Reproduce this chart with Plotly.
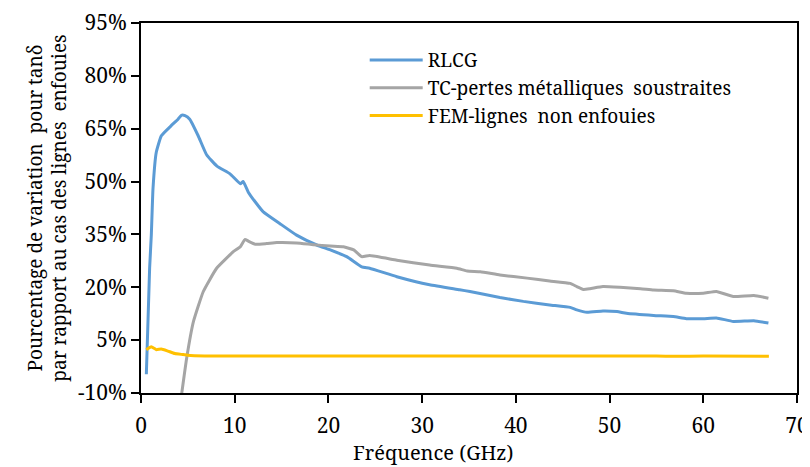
import plotly.graph_objects as go

COLOR_RLCG = "#5B9BD5"
COLOR_TC = "#A5A5A5"
COLOR_FEM = "#FFC000"
FONT = "Noto Serif, DejaVu Serif, serif"

# RLCG
rlcg_f = [0.57, 0.92, 1.1, 1.28, 1.63, 2.17, 3.2, 3.95, 4.3, 4.7, 5.2, 6.1, 7.0, 8.1, 9.5,
          10.6, 10.9, 11.45, 12.2, 13.05, 14.8, 16.6, 18.75, 20.2, 21.95, 23.55, 24.4,
          27.3, 30.8, 34.0, 35.1, 38.3, 40.8, 43.6, 45.8, 46.5, 47.6, 49.3, 50.8, 51.8,
          54.7, 56.8, 58.2, 60.0, 61.4, 63.2, 65.4, 66.95]
rlcg_v = [-4.7, 25.4, 34.8, 48.0, 58.3, 63.0, 65.8, 67.7, 68.8, 68.7, 67.7, 63.0, 57.6, 54.4, 52.2,
          49.4, 50.0, 47.0, 44.2, 41.4, 38.1, 34.8, 32.0, 30.6, 28.7, 25.8, 25.4,
          23.0, 20.7, 19.3, 18.8, 17.1, 16.0, 15.0, 14.3, 13.6, 12.9, 13.3, 13.1, 12.6,
          12.0, 11.7, 11.1, 11.1, 11.3, 10.3, 10.5, 9.85]

# TC-pertes métalliques soustraites
tc_f = [4.3, 4.88, 5.6, 6.65, 8.07, 9.85, 10.6, 11.1, 11.45, 12.2, 13.4, 14.5, 16.6, 18.4,
        20.2, 21.6, 22.7, 23.55, 24.4, 27.3, 30.8, 33.7, 34.8, 36.2, 38.3, 41.2, 43.6,
        45.8, 46.5, 47.2, 47.9, 49.3, 51.1, 53.3, 54.7, 56.8, 58.2, 60.0, 61.4, 63.2,
        65.4, 66.95]
tc_v = [-11.0, 0.0, 10.3, 18.8, 25.4, 30.1, 31.5, 33.6, 33.1, 32.2, 32.4, 32.7, 32.6, 32.1,
        31.7, 31.5, 30.6, 28.7, 29.0, 27.7, 26.3, 25.4, 24.6, 24.4, 23.5, 22.6, 21.8,
        21.1, 20.2, 19.4, 19.6, 20.2, 20.0, 19.6, 19.2, 19.0, 18.3, 18.3, 18.8, 17.4,
        17.7, 16.9]

# FEM-lignes non enfouies
fem_f = [0.57, 1.1, 1.63, 2.17, 2.88, 3.6, 4.5, 5.0, 6.8, 9.1, 20, 30, 40, 50, 55, 57, 60, 67]
fem_v = [2.3, 3.1, 2.3, 2.5, 1.9, 1.2, 0.9, 0.7, 0.5, 0.5, 0.5, 0.5, 0.5, 0.5, 0.5, 0.4, 0.5, 0.4]

y_ticks = [-10, 5, 20, 35, 50, 65, 80, 95]

fig = go.Figure()
fig.add_trace(go.Scatter(x=rlcg_f, y=rlcg_v, mode="lines", name="RLCG",
                         line=dict(color=COLOR_RLCG, width=3, shape="spline", smoothing=0.4)))
fig.add_trace(go.Scatter(x=tc_f, y=tc_v, mode="lines", name="TC-pertes métalliques  soustraites",
                         line=dict(color=COLOR_TC, width=3, shape="spline", smoothing=0.4)))
fig.add_trace(go.Scatter(x=fem_f, y=fem_v, mode="lines", name="FEM-lignes  non enfouies",
                         line=dict(color=COLOR_FEM, width=3, shape="spline", smoothing=0.4)))

axis_common = dict(showline=True, linecolor="black", linewidth=2, mirror=True,
                   ticks="outside", ticklen=8, tickcolor="black", tickwidth=1.5,
                   showgrid=False, zeroline=False, automargin=False,
                   ticklabeloverflow="allow",
                   tickfont=dict(family=FONT, size=21, color="black"))

# page has an 8px body margin, so the figure is 8px smaller than the window
fig.update_layout(
    width=802, height=459,
    template="none",
    paper_bgcolor="white", plot_bgcolor="white",
    font=dict(family=FONT, size=20, color="black"),
    margin=dict(l=133, r=13, t=15, b=74),
    xaxis=dict(range=[0, 70], dtick=10, tick0=0, ticklabelstandoff=5,
               **axis_common),
    yaxis=dict(range=[-10, 95], tickvals=y_ticks,
               ticktext=[f"{v}%" for v in y_ticks],
               title=dict(text="Pourcentage de variation  pour tanδ<br>par rapport au cas des lignes  enfouies",
                          font=dict(family=FONT, size=19), standoff=6),
               **axis_common),
    legend=dict(x=0.341, y=0.951, xanchor="left", yanchor="top",
                bgcolor="rgba(0,0,0,0)", font=dict(family=FONT, size=19),
                itemwidth=53, tracegroupgap=0),
    showlegend=True,
)

# x title sits left of the axis centre in the original
fig.add_annotation(text="Fréquence (GHz)", xref="paper", yref="paper",
                   x=0.445, y=0, xanchor="center", yanchor="middle", yshift=-59,
                   showarrow=False, font=dict(family=FONT, size=20, color="black"))

fig.write_html("out.html")
